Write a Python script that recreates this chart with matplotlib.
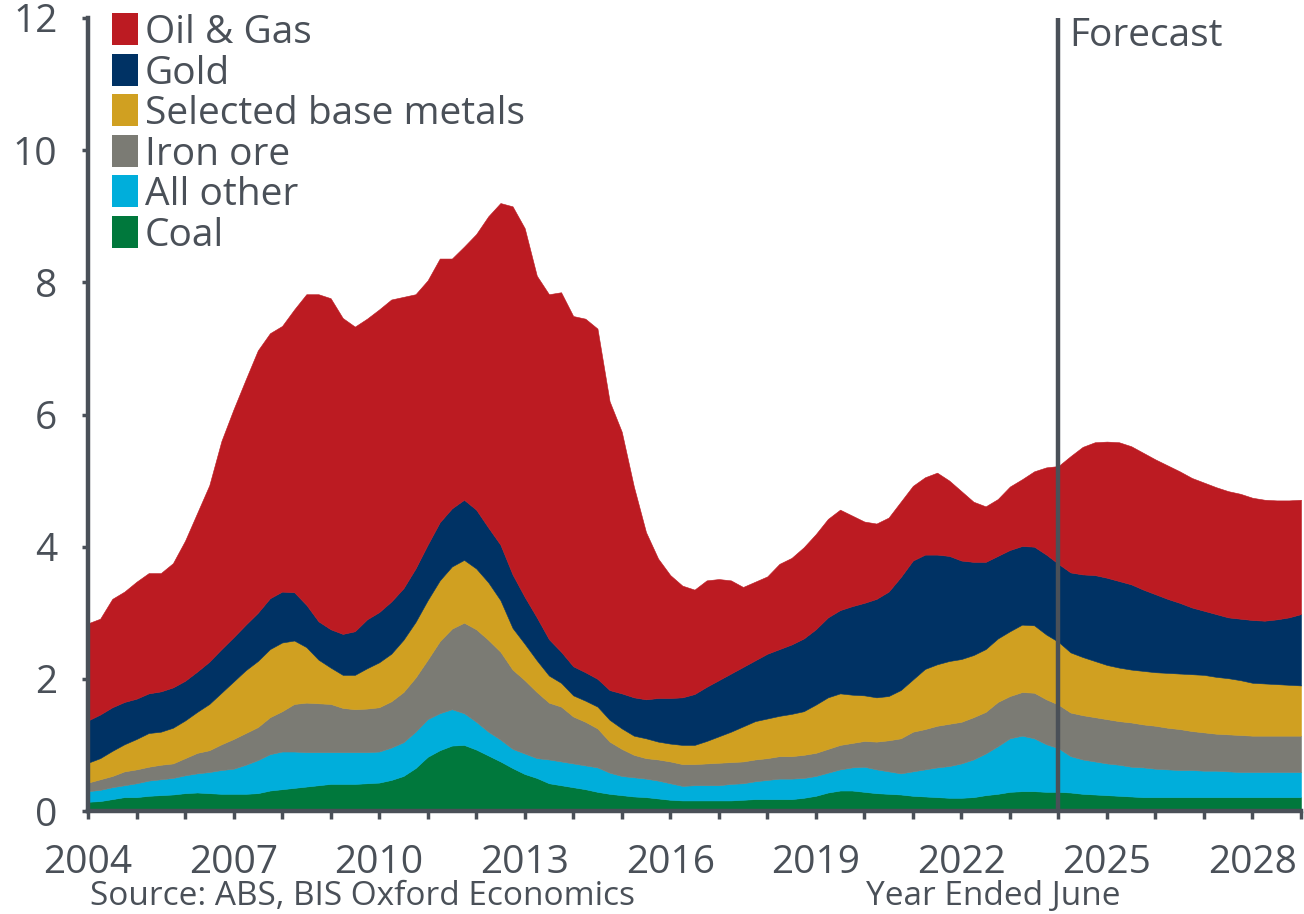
import numpy as np
import matplotlib
matplotlib.use("Agg")
import matplotlib.pyplot as plt
from matplotlib.patches import Rectangle
from matplotlib.ticker import FixedLocator, FixedFormatter

plt.rcParams['font.family'] = ['Open Sans', 'DejaVu Sans']

# Quarterly, 2004.0 .. 2029.0 (year ended June)
start_year = 2004
n_quarters = 101

coal = [.14, .15, .18, .21, .21, .23, .24, .25, .27, .28,
        .27, .26, .26, .26, .27, .31, .33, .35, .37, .39,
        .41, .41, .41, .42, .43, .47, .53, .65, .82, .92,
        .99, 1.00, .93, .84, .75, .65, .56, .50, .42, .39,
        .36, .33, .29, .26, .24, .22, .21, .19, .17, .16,
        .16, .16, .16, .16, .17, .18, .18, .18, .18, .20,
        .23, .28, .31, .31, .29, .27, .26, .25, .23, .22,
        .21, .20, .20, .21, .24, .26, .29, .30, .30, .29,
        .29, .28, .26, .25, .24, .23, .22, .21, .21, .21,
        .21, .21, .21, .21, .21, .21, .21, .21, .21, .21, .21]

all_other = [.16, .17, .18, .18, .21, .23, .24, .25, .27, .29,
             .32, .36, .38, .44, .50, .55, .57, .55, .52, .50,
             .48, .48, .48, .47, .47, .49, .51, .55, .57, .56,
             .55, .48, .42, .36, .33, .29, .31, .30, .36, .36,
             .36, .36, .37, .32, .29, .29, .28, .27, .25, .22,
             .23, .23, .23, .25, .25, .27, .29, .31, .31, .30,
             .30, .30, .32, .35, .38, .36, .34, .32, .37, .41,
             .45, .48, .52, .57, .63, .72, .81, .84, .80, .72,
             .66, .55, .52, .50, .48, .47, .45, .45, .43, .42,
             .41, .41, .40, .40, .39, .38, .38, .38, .38, .38, .38]

iron_ore = [.13, .16, .17, .21, .21, .21, .22, .22, .26, .31,
            .33, .39, .45, .48, .50, .56, .61, .72, .75, .74,
            .73, .67, .65, .66, .67, .70, .76, .82, .90, 1.09,
            1.22, 1.37, 1.40, 1.39, 1.33, 1.20, 1.11, 1.00, .86, .83,
            .71, .66, .59, .47, .41, .34, .31, .32, .33, .33,
            .32, .33, .34, .33, .33, .33, .33, .34, .34, .35,
            .35, .36, .37, .37, .39, .42, .47, .53, .60, .61,
            .63, .64, .63, .64, .63, .67, .64, .66, .69, .68,
            .66, .66, .67, .67, .67, .66, .67, .65, .65, .63,
            .62, .59, .58, .56, .56, .56, .55, .55, .55, .55, .55]

base_metals = [.30, .32, .38, .41, .46, .51, .50, .54, .57, .62,
               .70, .78, .87, .95, 1.00, 1.03, 1.04, .96, .84, .66,
               .55, .50, .52, .61, .68, .72, .79, .84, .90, .92,
               .94, .95, .92, .87, .78, .63, .55, .48, .41, .36,
               .32, .32, .33, .33, .31, .29, .30, .27, .27, .29,
               .29, .34, .40, .46, .53, .58, .60, .61, .64, .66,
               .73, .78, .78, .73, .69, .67, .67, .73, .79, .91,
               .93, .95, .95, .94, .95, .96, .98, 1.02, 1.02, .98,
               .95, .91, .88, .85, .82, .81, .80, .81, .81, .83,
               .84, .86, .87, .86, .85, .83, .80, .79, .78, .77, .76]

gold = [.64, .66, .66, .64, .61, .60, .61, .61, .60, .61,
        .64, .66, .67, .69, .73, .77, .77, .73, .64, .58,
        .58, .62, .66, .74, .76, .79, .78, .81, .84, .88,
        .88, .91, .89, .83, .84, .81, .71, .65, .55, .47,
        .44, .43, .42, .45, .53, .58, .59, .66, .69, .72,
        .77, .82, .85, .88, .90, .92, .98, 1.01, 1.05, 1.10,
        1.14, 1.21, 1.26, 1.34, 1.40, 1.49, 1.58, 1.71, 1.80, 1.73,
        1.66, 1.59, 1.49, 1.41, 1.32, 1.25, 1.23, 1.19, 1.19, 1.21,
        1.18, 1.21, 1.25, 1.30, 1.32, 1.31, 1.29, 1.23, 1.18, 1.12,
        1.07, 1.01, .97, .95, .92, .93, .95, .95, .98, 1.02, 1.08]

oil_gas = [1.47, 1.45, 1.64, 1.67, 1.77, 1.82, 1.79, 1.88, 2.12, 2.40,
           2.67, 3.15, 3.45, 3.71, 3.97, 4.01, 4.02, 4.28, 4.70, 4.95,
           5.01, 4.78, 4.61, 4.55, 4.58, 4.57, 4.41, 4.15, 4.00, 3.99,
           3.78, 3.83, 4.17, 4.71, 5.17, 5.57, 5.58, 5.17, 5.22, 5.44,
           5.30, 5.35, 5.30, 4.37, 3.96, 3.19, 2.53, 2.11, 1.86, 1.69,
           1.58, 1.61, 1.53, 1.41, 1.21, 1.19, 1.17, 1.29, 1.31, 1.38,
           1.44, 1.49, 1.52, 1.37, 1.23, 1.14, 1.12, 1.14, 1.13, 1.17,
           1.24, 1.14, 1.05, .91, .84, .86, .96, 1.01, 1.14, 1.32,
           1.48, 1.76, 1.93, 2.01, 2.06, 2.10, 2.09, 2.07, 2.04, 2.02,
           1.99, 1.96, 1.94, 1.92, 1.91, 1.89, 1.85, 1.83, 1.80, 1.77, 1.73]

series_bottom_up = [coal, all_other, iron_ore, base_metals, gold, oil_gas]
labels_bottom_up = ["Coal", "All other", "Iron ore", "Selected base metals", "Gold", "Oil & Gas"]
colors_bottom_up = ["#00783C", "#00AEDB", "#7B7B74", "#D0A021", "#003264", "#BC1B22"]

legend_order = ["Oil & Gas", "Gold", "Selected base metals", "Iron ore", "All other", "Coal"]
year_ticks = list(range(2004, 2030))
year_labels = [str(y) if (y - 2004) % 3 == 0 else "" for y in year_ticks]
y_ticks = [0, 2, 4, 6, 8, 10, 12]
forecast_year = 2024

TXT = "#4A5058"

x = start_year + np.arange(n_quarters) / 4.0

fig = plt.figure(figsize=(13.04, 9.14), dpi=100)
ax = fig.add_axes([88 / 1304, 1 - 811 / 914, 1213 / 1304, 793 / 914])

polys = ax.stackplot(x, *series_bottom_up, colors=colors_bottom_up,
                     labels=labels_bottom_up, linewidth=0.4)
for p, c in zip(polys, colors_bottom_up):
    p.set_edgecolor(c)

ax.set_xlim(2004, 2029)
ax.set_ylim(0, 12)

for s in ["top", "right"]:
    ax.spines[s].set_visible(False)
for s in ["left", "bottom"]:
    ax.spines[s].set_color(TXT)
    ax.spines[s].set_linewidth(3.2)

ax.xaxis.set_major_locator(FixedLocator(year_ticks))
ax.xaxis.set_major_formatter(FixedFormatter(year_labels))
ax.set_yticks(y_ticks)
ax.set_yticklabels([str(v) for v in y_ticks])
ax.tick_params(axis="x", direction="out", length=6, width=2.5, colors=TXT,
               labelsize=28, pad=18)
ax.tick_params(axis="y", direction="out", length=4, width=2.5, colors=TXT,
               labelsize=28, pad=18)

# Forecast divider
ax.axvline(forecast_year, color=TXT, linewidth=3.2, zorder=5)
ax.text(forecast_year + 0.23, 11.57, "Forecast", fontsize=28, color=TXT,
        ha="left", va="baseline")

# Legend (manual, compact rows)
color_of = dict(zip(labels_bottom_up, colors_bottom_up))
ax_w, ax_h = 1213.0, 793.0
for k, lab in enumerate(legend_order):
    yc = 29 + 40.6 * k  # pixel row centre from top of figure
    ya = (811 - yc) / ax_h
    ax.add_patch(Rectangle(((112 - 88) / ax_w, ya - 16 / ax_h), 26 / ax_w, 32 / ax_h,
                           transform=ax.transAxes, facecolor=color_of[lab],
                           edgecolor="none", clip_on=False, zorder=6))
    ax.text((145 - 88) / ax_w, (811 - (yc + 14)) / ax_h, lab, transform=ax.transAxes,
            fontsize=28, color=TXT, ha="left", va="baseline", zorder=6)

fig.text(90 / 1304, 1 - 905 / 914, "Source: ABS, BIS Oxford Economics",
         fontsize=24, color=TXT, ha="left", va="baseline")
fig.text(866 / 1304, 1 - 905 / 914, "Year Ended June",
         fontsize=24, color=TXT, ha="left", va="baseline")

fig.savefig("out.png", dpi=100)
